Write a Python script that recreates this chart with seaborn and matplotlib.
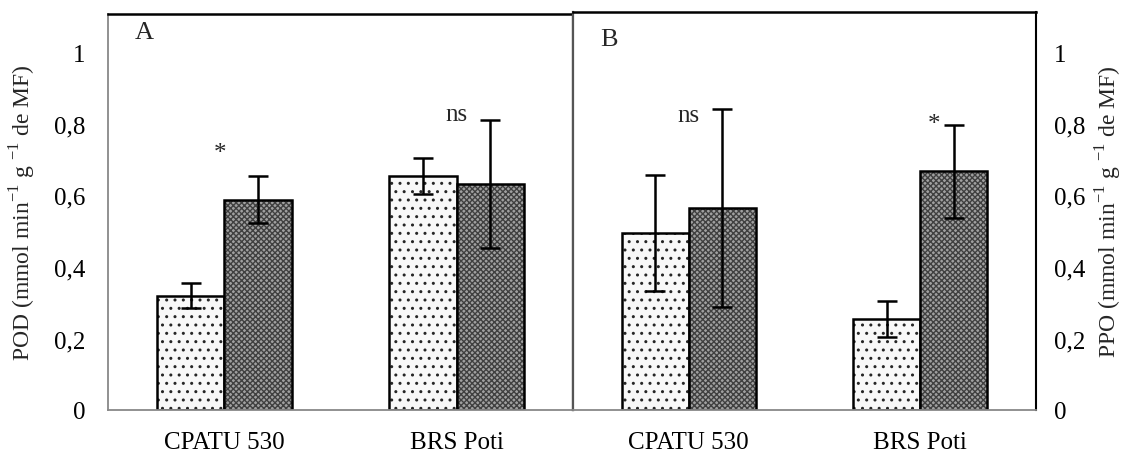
import matplotlib
matplotlib.use("Agg")
import matplotlib.pyplot as plt
from matplotlib.container import BarContainer
import seaborn as sns
import pandas as pd
import numpy as np

# ---- data ----
cultivars = ["CPATU 530", "BRS Poti"]
treatments = ["T1", "T2"]
pod_t1 = [0.32, 0.655]
pod_t2 = [0.588, 0.632]
pod_err_t1 = [0.036, 0.05]
pod_err_t2 = [0.066, 0.18]
ppo_t1 = [0.495, 0.254]
ppo_t2 = [0.565, 0.667]
ppo_err_t1 = [0.163, 0.05]
ppo_err_t2 = [0.277, 0.13]
pod_marks = ["*", "ns"]
ppo_marks = ["ns", "*"]
pod_mark_y = [0.737, 0.838]
ppo_mark_y = [0.835, 0.818]
ytick_vals = [0, 0.2, 0.4, 0.6, 0.8, 1.0]
ytick_labels = ["0", "0,2", "0,4", "0,6", "0,8", "1"]

sns.set_theme(style="white")
plt.rcParams['font.family'] = ['Liberation Serif', 'DejaVu Serif']
plt.rcParams['mathtext.fontset'] = 'custom'
plt.rcParams['mathtext.rm'] = 'Liberation Serif'
plt.rcParams['hatch.linewidth'] = 1.0

W, H = 1127, 460
fig = plt.figure(figsize=(W / 100, H / 100), dpi=100)
ax1 = fig.add_axes([108 / W, 1 - 411 / H, (573 - 108) / W, (411 - 15) / H])
ax2 = fig.add_axes([573 / W, 1 - 411 / H, (1036 - 573) / W, (411 - 13) / H])

FS = 18


def make_df(v1, v2):
    return pd.DataFrame({
        "cultivar": cultivars * 2,
        "trat": [treatments[0]] * 2 + [treatments[1]] * 2,
        "val": list(v1) + list(v2),
    })


def draw(ax, v1, v2, e1, e2, marks, mark_y, mark_dx, letter, letter_y, ylim_top):
    df = make_df(v1, v2)
    sns.barplot(data=df, x="cultivar", y="val", hue="trat", order=cultivars,
                hue_order=treatments, errorbar=None, width=0.58, gap=0,
                ax=ax, legend=False, palette=["#f8f8f8", "#a0a0a0"],
                edgecolor="black", linewidth=1.8, saturation=1)
    errs = [e1, e2]
    vals = [v1, v2]
    hatches = ["..", "xxxxxx"]
    bar_conts = [c for c in ax.containers if isinstance(c, BarContainer)]
    for k, cont in enumerate(bar_conts):
        for j, bar in enumerate(cont):
            bar.set_hatch(hatches[k])
            if k == 0:
                bar._hatch_color = (0.15, 0.15, 0.15, 1)
            else:
                bar._hatch_color = (0.25, 0.25, 0.25, 1)
            xc = bar.get_x() + bar.get_width() / 2
            ax.errorbar(xc, vals[k][j], yerr=errs[k][j], fmt="none",
                        ecolor="black", elinewidth=1.8, capsize=7,
                        capthick=1.8, zorder=5)
    for j, m in enumerate(marks):
        dy = -4.5 if m == "*" else -2.5
        ax.annotate(m, xy=(j + mark_dx[j], mark_y[j]), xytext=(0, dy),
                    textcoords="offset points", ha="center", va="center",
                    fontsize=FS)
    ax.set_ylim(0, ylim_top)
    ax.set_xlim(-0.5, 1.5)
    ax.set_yticks(ytick_vals)
    ax.set_yticklabels(ytick_labels)
    ax.set_xlabel("")
    ax.tick_params(axis="both", length=0, labelsize=FS, colors="black")
    ax.tick_params(axis="x", pad=15)
    ax.text(0.058, letter_y, letter, transform=ax.transAxes, fontsize=FS + 1,
            ha="left", va="center")


draw(ax1, pod_t1, pod_t2, pod_err_t1, pod_err_t2, pod_marks, pod_mark_y,
     [-0.02, 0.0], "A", 0.955, 1.107)
draw(ax2, ppo_t1, ppo_t2, ppo_err_t1, ppo_err_t2, ppo_marks, ppo_mark_y,
     [0.0, 0.06], "B", 0.932, 1.113)

ax1.set_ylabel(r"POD (mmol min$^{\mathregular{-1}}$ g $^{\mathregular{-1}}$ de MF)",
               fontsize=17, labelpad=12)
ax1.tick_params(axis="y", pad=16)
ax2.yaxis.tick_right()
ax2.yaxis.set_label_position("right")
ax2.tick_params(axis="y", pad=13, labelright=True, labelleft=False)
ax2.set_ylabel(r"PPO (mmol min$^{\mathregular{-1}}$ g $^{\mathregular{-1}}$ de MF)",
               fontsize=17, labelpad=6)

for ax in (ax1, ax2):
    for s in ax.spines.values():
        s.set_visible(True)
ax1.spines["left"].set_color("#888888"); ax1.spines["left"].set_linewidth(1.3)
ax1.spines["bottom"].set_color("#888888"); ax1.spines["bottom"].set_linewidth(1.3)
ax1.spines["top"].set_color("black"); ax1.spines["top"].set_linewidth(1.8)
ax1.spines["right"].set_color("#555555"); ax1.spines["right"].set_linewidth(1.6)
ax2.spines["left"].set_color("#555555"); ax2.spines["left"].set_linewidth(1.6)
ax2.spines["bottom"].set_color("#888888"); ax2.spines["bottom"].set_linewidth(1.3)
ax2.spines["top"].set_color("black"); ax2.spines["top"].set_linewidth(1.8)
ax2.spines["right"].set_color("black"); ax2.spines["right"].set_linewidth(1.5)

fig.savefig("out.png", dpi=100, facecolor="white")
